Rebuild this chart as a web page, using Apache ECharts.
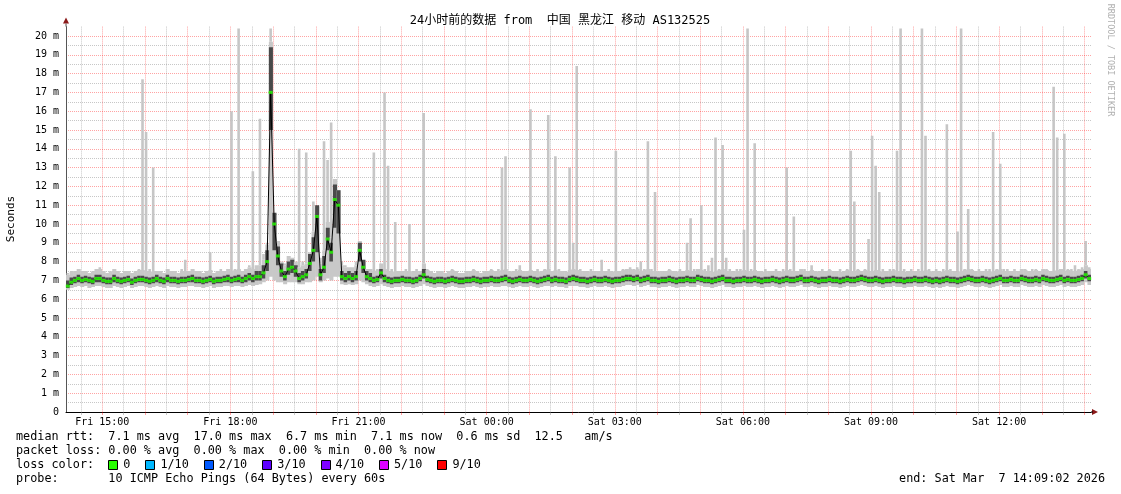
<!DOCTYPE html>
<html><head><meta charset="utf-8">
<script src="https://cdn.jsdelivr.net/npm/echarts@6/dist/echarts.min.js"></script>
<style>html,body{margin:0;padding:0;background:#fff}#c{width:1121px;height:494px}</style>
</head><body><div id="c"></div>
<script>
// time axis: minutes relative to Fri 15:00; window Fri 14:09:02 .. Sat 14:09:02
const startMin = -50.97;
const endMin = 1389.03;
const stepMin = 5;
const xLabels = ['Fri 15:00','Fri 18:00','Fri 21:00','Sat 00:00','Sat 03:00','Sat 06:00','Sat 09:00','Sat 12:00'];
const yTickLabels = ['0','1 m','2 m','3 m','4 m','5 m','6 m','7 m','8 m','9 m','10 m','11 m','12 m','13 m','14 m','15 m','16 m','17 m','18 m','19 m','20 m'];

// median rtt (ms), one value per 5 minutes
const median = [
6.7,6.9,7.0,7.1,7.0,7.05,7.0,6.95,7.1,7.1,7.0,6.95,6.95,7.1,7.0,6.95,7.0,7.05,6.9,7.0,7.05,7.05,7.0,6.95,
7.0,7.1,7.0,6.95,7.1,7.0,7.0,6.95,7.0,7.0,7.05,7.1,7.0,7.0,6.95,7.0,7.05,6.95,7.0,7.0,7.05,7.1,7.0,7.05,
7.1,7.0,7.1,7.2,7.1,7.2,7.2,7.4,8.0,17.0,10.0,8.3,7.5,7.2,7.6,7.7,7.5,7.1,7.2,7.3,7.9,8.6,10.4,7.3,
7.7,9.2,8.5,11.3,11.0,7.2,7.1,7.2,7.1,7.2,8.6,7.7,7.2,7.1,7.0,7.05,7.4,7.1,7.0,6.95,7.0,7.0,7.05,7.0,
7.0,6.95,7.0,7.1,7.3,7.05,7.0,6.95,7.0,7.0,6.95,7.0,7.05,7.0,6.95,6.95,7.0,7.0,7.05,7.0,6.95,7.0,7.0,7.05,
7.0,7.0,7.05,7.1,7.0,6.95,7.0,7.05,7.0,7.0,7.05,7.0,6.95,7.0,7.05,7.1,7.0,7.05,7.0,7.0,6.95,7.05,7.1,7.05,
7.0,7.0,6.95,7.0,7.05,7.0,7.0,7.05,7.0,6.95,7.0,7.0,7.05,7.1,7.1,7.05,7.1,7.0,7.05,7.1,7.0,7.0,6.95,7.0,
7.0,7.05,7.0,6.95,7.0,7.0,7.05,7.0,7.0,7.1,7.05,7.0,7.0,6.95,7.0,7.05,7.1,7.0,7.0,6.95,7.0,7.0,7.05,7.0,
7.0,7.05,7.0,6.95,7.0,7.0,7.05,7.0,6.95,7.0,7.05,7.0,7.0,7.05,7.1,7.0,7.0,7.05,7.0,6.95,7.0,7.0,7.05,7.0,
7.0,6.95,7.0,7.05,7.0,7.0,7.05,7.1,7.05,7.0,7.0,7.05,7.0,6.95,7.0,7.0,7.05,7.0,7.0,6.95,7.0,7.0,7.05,7.0,
7.0,7.05,7.0,6.95,7.0,6.95,7.0,7.05,7.0,7.0,6.95,7.0,7.05,7.1,7.05,7.0,7.0,7.05,7.0,6.95,7.0,7.05,7.1,7.0,
7.0,7.05,7.0,7.0,7.1,7.05,7.0,7.0,7.05,7.0,7.1,7.05,7.0,7.0,7.05,7.1,7.0,7.05,7.0,7.0,7.05,7.1,7.3,7.1
];
// fastest ping (ms)
const pingMin = [
6.5,6.6,6.65,6.7,6.65,6.7,6.6,6.65,6.7,6.7,6.65,6.6,6.6,6.7,6.65,6.6,6.65,6.7,6.6,6.65,6.7,6.7,6.65,6.6,
6.65,6.7,6.65,6.6,6.7,6.65,6.65,6.6,6.65,6.65,6.7,6.7,6.65,6.65,6.6,6.65,6.7,6.6,6.65,6.65,6.7,6.7,6.65,6.7,
6.7,6.65,6.7,6.75,6.7,6.75,6.8,6.9,7.0,7.2,7.0,6.9,6.9,6.8,6.9,6.9,6.9,6.8,6.8,6.9,6.9,7.0,7.2,6.9,
7.0,7.1,7.0,7.2,7.2,6.8,6.75,6.8,6.75,6.8,7.0,6.9,6.8,6.7,6.65,6.7,6.8,6.7,6.65,6.6,6.65,6.65,6.7,6.65,
6.65,6.6,6.65,6.7,6.8,6.7,6.65,6.6,6.65,6.65,6.6,6.65,6.7,6.65,6.6,6.6,6.65,6.65,6.7,6.65,6.6,6.65,6.65,6.7,
6.65,6.65,6.7,6.7,6.65,6.6,6.65,6.7,6.65,6.65,6.7,6.65,6.6,6.65,6.7,6.7,6.65,6.7,6.65,6.65,6.6,6.7,6.7,6.7,
6.65,6.65,6.6,6.65,6.7,6.65,6.65,6.7,6.65,6.6,6.65,6.65,6.7,6.75,6.75,6.7,6.75,6.65,6.7,6.75,6.65,6.65,6.6,6.65,
6.65,6.7,6.65,6.6,6.65,6.65,6.7,6.65,6.65,6.75,6.7,6.65,6.65,6.6,6.65,6.7,6.75,6.65,6.65,6.6,6.65,6.65,6.7,6.65,
6.65,6.7,6.65,6.6,6.65,6.65,6.7,6.65,6.6,6.65,6.7,6.65,6.65,6.7,6.75,6.65,6.65,6.7,6.65,6.6,6.65,6.65,6.7,6.65,
6.65,6.6,6.65,6.7,6.65,6.65,6.7,6.75,6.7,6.65,6.65,6.7,6.65,6.6,6.65,6.65,6.7,6.65,6.65,6.6,6.65,6.65,6.7,6.65,
6.65,6.7,6.65,6.6,6.65,6.6,6.65,6.7,6.65,6.65,6.6,6.65,6.7,6.75,6.7,6.65,6.65,6.7,6.65,6.6,6.65,6.7,6.75,6.65,
6.65,6.7,6.65,6.65,6.75,6.7,6.65,6.65,6.7,6.65,6.75,6.7,6.65,6.65,6.7,6.75,6.65,6.7,6.65,6.65,6.7,6.75,6.9,6.75
];
// dense smoke, lower edge (ms)
const smokeLow = [
6.6,6.75,6.85,6.9,6.85,6.9,6.85,6.8,6.9,6.9,6.85,6.8,6.8,6.9,6.85,6.8,6.85,6.9,6.75,6.85,6.9,6.9,6.85,6.8,
6.85,6.9,6.85,6.8,6.9,6.85,6.85,6.8,6.85,6.85,6.9,6.9,6.85,6.85,6.8,6.85,6.9,6.8,6.85,6.85,6.9,6.9,6.85,6.9,
6.9,6.85,6.9,7.0,6.9,7.0,7.0,7.1,7.5,15.0,8.6,7.8,7.2,7.0,7.3,7.4,7.2,6.9,7.0,7.1,7.5,8.0,8.5,7.0,
7.4,8.6,8.0,9.8,9.5,7.0,6.9,7.0,6.9,7.0,8.0,7.4,7.0,6.9,6.85,6.9,7.1,6.9,6.85,6.8,6.85,6.85,6.9,6.85,
6.85,6.8,6.85,6.95,7.1,6.9,6.85,6.8,6.85,6.85,6.8,6.85,6.9,6.85,6.8,6.8,6.85,6.85,6.9,6.85,6.8,6.85,6.85,6.9,
6.85,6.85,6.9,6.95,6.85,6.8,6.85,6.9,6.85,6.85,6.9,6.85,6.8,6.85,6.9,6.95,6.85,6.9,6.85,6.85,6.8,6.9,6.95,6.9,
6.85,6.85,6.8,6.85,6.9,6.85,6.85,6.9,6.85,6.8,6.85,6.85,6.9,6.95,6.95,6.9,6.95,6.85,6.9,6.95,6.85,6.85,6.8,6.85,
6.85,6.9,6.85,6.8,6.85,6.85,6.9,6.85,6.85,6.95,6.9,6.85,6.85,6.8,6.85,6.9,6.95,6.85,6.85,6.8,6.85,6.85,6.9,6.85,
6.85,6.9,6.85,6.8,6.85,6.85,6.9,6.85,6.8,6.85,6.9,6.85,6.85,6.9,6.95,6.85,6.85,6.9,6.85,6.8,6.85,6.85,6.9,6.85,
6.85,6.8,6.85,6.9,6.85,6.85,6.9,6.95,6.9,6.85,6.85,6.9,6.85,6.8,6.85,6.85,6.9,6.85,6.85,6.8,6.85,6.85,6.9,6.85,
6.85,6.9,6.85,6.8,6.85,6.8,6.85,6.9,6.85,6.85,6.8,6.85,6.9,6.95,6.9,6.85,6.85,6.9,6.85,6.8,6.85,6.9,6.95,6.85,
6.85,6.9,6.85,6.85,6.95,6.9,6.85,6.85,6.9,6.85,6.95,6.9,6.85,6.85,6.9,6.95,6.85,6.9,6.85,6.85,6.9,6.95,7.1,6.95
];
// dense smoke, upper edge (ms)
const smokeHigh = [
7.0,7.15,7.2,7.3,7.2,7.25,7.2,7.15,7.3,7.3,7.2,7.15,7.15,7.3,7.2,7.15,7.2,7.25,7.1,7.2,7.25,7.25,7.2,7.15,
7.2,7.3,7.2,7.15,7.3,7.2,7.2,7.15,7.2,7.2,7.25,7.3,7.2,7.2,7.15,7.2,7.25,7.15,7.2,7.2,7.25,7.3,7.2,7.25,
7.3,7.2,7.3,7.4,7.3,7.5,7.5,7.8,8.6,19.4,10.6,8.8,7.9,7.5,8.0,8.1,7.8,7.4,7.5,7.6,8.4,9.3,11.0,7.6,
8.3,9.8,9.0,12.1,11.8,7.5,7.4,7.5,7.4,7.5,9.0,8.1,7.5,7.4,7.2,7.25,7.6,7.3,7.2,7.15,7.2,7.2,7.25,7.2,
7.2,7.15,7.2,7.3,7.6,7.25,7.2,7.15,7.2,7.2,7.15,7.2,7.25,7.2,7.15,7.15,7.2,7.2,7.25,7.2,7.15,7.2,7.2,7.25,
7.2,7.2,7.25,7.3,7.2,7.15,7.2,7.25,7.2,7.2,7.25,7.2,7.15,7.2,7.25,7.3,7.2,7.25,7.2,7.2,7.15,7.25,7.3,7.25,
7.2,7.2,7.15,7.2,7.25,7.2,7.2,7.25,7.2,7.15,7.2,7.2,7.25,7.3,7.3,7.25,7.3,7.2,7.25,7.3,7.2,7.2,7.15,7.2,
7.2,7.25,7.2,7.15,7.2,7.2,7.25,7.2,7.2,7.3,7.25,7.2,7.2,7.15,7.2,7.25,7.3,7.2,7.2,7.15,7.2,7.2,7.25,7.2,
7.2,7.25,7.2,7.15,7.2,7.2,7.25,7.2,7.15,7.2,7.25,7.2,7.2,7.25,7.3,7.2,7.2,7.25,7.2,7.15,7.2,7.2,7.25,7.2,
7.2,7.15,7.2,7.25,7.2,7.2,7.25,7.3,7.25,7.2,7.2,7.25,7.2,7.15,7.2,7.2,7.25,7.2,7.2,7.15,7.2,7.2,7.25,7.2,
7.2,7.25,7.2,7.15,7.2,7.15,7.2,7.25,7.2,7.2,7.15,7.2,7.25,7.3,7.25,7.2,7.2,7.25,7.2,7.15,7.2,7.25,7.3,7.2,
7.2,7.25,7.2,7.2,7.3,7.25,7.2,7.2,7.25,7.2,7.3,7.25,7.2,7.2,7.25,7.3,7.2,7.25,7.2,7.2,7.25,7.3,7.5,7.3
];
// slowest ping (ms)
const pingMax = [
7.4,7.5,7.5,7.6,7.5,7.5,7.4,7.5,7.6,7.7,7.5,7.4,7.5,7.6,7.5,7.4,7.5,7.5,7.4,7.5,7.6,17.7,14.9,7.6,
13.0,7.5,7.5,7.4,7.6,7.5,7.5,7.4,7.6,8.1,7.5,7.6,7.5,7.5,7.4,7.5,8.5,7.4,7.5,7.6,7.5,7.6,16.0,7.6,
20.4,7.5,7.6,7.8,12.8,7.8,15.6,8.4,9.0,20.4,10.2,9.1,8.0,7.9,8.3,8.2,8.0,14.0,8.0,13.8,8.5,11.2,10.9,8.2,
14.4,13.4,15.4,12.4,11.8,8.0,7.8,7.7,7.7,8.0,9.1,8.0,7.6,7.6,13.8,7.6,7.9,17.0,13.1,7.6,10.1,7.5,7.5,7.6,
10.0,7.5,7.6,7.5,15.9,7.6,7.5,7.4,7.5,7.5,7.4,7.5,7.6,7.5,7.4,7.4,7.5,7.5,7.6,7.5,7.4,7.5,7.5,7.6,
7.5,7.6,13.0,13.6,7.5,7.5,7.6,7.8,7.5,7.5,16.1,7.5,7.6,7.5,7.6,15.8,7.5,13.6,7.6,7.5,7.5,13.0,9.0,18.4,
7.6,7.5,7.5,7.6,7.5,7.5,8.1,7.5,7.6,7.5,13.9,7.5,7.6,7.6,7.7,7.6,7.7,8.0,7.6,14.4,7.6,11.7,7.5,7.5,
7.5,7.6,7.5,7.5,7.6,7.5,9.0,10.3,7.6,7.6,11.0,7.6,7.8,8.2,14.6,7.6,14.2,8.2,7.6,7.5,7.6,7.6,9.7,20.4,
7.6,14.3,7.5,7.5,7.6,7.5,7.5,7.6,7.5,7.6,13.0,7.6,10.4,7.5,7.6,7.6,7.5,7.8,7.5,7.5,7.6,7.5,7.6,7.5,
7.5,7.6,7.5,7.6,13.9,11.2,7.6,7.5,7.6,9.2,14.7,13.1,11.7,7.6,7.5,7.6,7.6,13.9,20.4,7.6,7.5,7.6,7.5,7.6,
20.4,14.7,7.6,7.5,7.6,7.5,7.6,15.3,7.6,7.5,9.6,20.4,7.6,10.8,7.6,7.5,7.6,7.5,7.6,7.6,14.9,7.6,13.2,7.6,
7.6,7.5,7.6,7.5,7.6,7.6,7.5,7.6,7.6,7.5,7.6,7.6,7.5,17.3,14.6,7.6,14.8,7.6,7.6,7.8,7.6,7.7,9.1,7.7
];

const lossLevels = ['0','1/10','2/10','3/10','4/10','5/10','9/10'];
const lossColors = ['#26ff00','#00b8ff','#0059ff','#5e00ff','#7e00ff','#dd00ff','#ff0000'];
const statLines = [
  'median rtt:  7.1 ms avg  17.0 ms max  6.7 ms min  7.1 ms now  0.6 ms sd  12.5   am/s',
  'packet loss: 0.00 % avg  0.00 % max  0.00 % min  0.00 % now',
  'loss color:',
  'probe:       10 ICMP Echo Pings (64 Bytes) every 60s'
];
const titleText = '24小时前的数据 from  中国 黑龙江 移动 AS132525';
const endText = 'end: Sat Mar  7 14:09:02 2026';

const MONO = '"DejaVu Sans Mono", "Noto Sans CJK SC", monospace';
const LEG_FONT = '11.8px ' + MONO;
const CW = 7.1;
const xOf = i => startMin + stepMin * (i + 0.5);
const smokeData = median.map((m, i) => [xOf(i), pingMin[i], smokeLow[i], smokeHigh[i], pingMax[i]]);
const medData = median.map((m, i) => [xOf(i), m]);

const hourTicks = [], halfTicks = [];
for (let t = -30; t <= endMin; t += 30) { (t % 60 === 0 ? hourTicks : halfTicks).push(t); }
const yInt = [], yHalf = [];
for (let k = 0; k <= 20; k++) { yInt.push(k); yHalf.push(k + 0.5); }
yHalf.pop();

const RED = 'rgba(255,0,0,0.36)', GRAY = 'rgba(130,130,130,0.45)';

function renderSmoke(params, api) {
  const x = api.value(0), lo = api.value(1), q1 = api.value(2), q3 = api.value(3), hi = api.value(4);
  const w = api.size([stepMin, 0])[0];
  const bandTop = Math.min(hi, q3 + 0.3);
  const pLo = api.coord([x, lo]), pBT = api.coord([x, bandTop]), pHi = api.coord([x, hi]);
  const pQ1 = api.coord([x, q1]), pQ3 = api.coord([x, q3]);
  const ch = [{type: 'rect', shape: {x: pLo[0] - w / 2, y: pBT[1], width: w + 0.5, height: pLo[1] - pBT[1]}, style: {fill: '#c8c8c8'}}];
  if (hi > bandTop) ch.push({type: 'rect', shape: {x: pHi[0] - 1.3, y: pHi[1], width: 2.6, height: pBT[1] - pHi[1]}, style: {fill: '#c6c6c6'}});
  ch.push({type: 'rect', shape: {x: pQ1[0] - w / 2, y: pQ3[1], width: w + 0.5, height: Math.max(1, pQ1[1] - pQ3[1])}, style: {fill: '#4a4a4a'}});
  return {type: 'group', children: ch};
}

const chart = echarts.init(document.getElementById('c'), null, {renderer: 'canvas'});
const gridTop = 26.6;
chart.setOption({
  animation: false,
  backgroundColor: '#fff',
  grid: {left: 66, right: 30, top: gridTop, bottom: 82},
  xAxis: [{
    type: 'value', min: startMin, max: endMin, position: 'bottom',
    axisLine: {show: true, onZero: false, lineStyle: {color: '#000', width: 1}},
    axisTick: {show: true, customValues: hourTicks, length: 3, lineStyle: {color: RED}},
    axisLabel: {show: true, customValues: xLabels.map((_, k) => k * 180), formatter: v => xLabels[Math.round(v / 180)],
      fontFamily: MONO, fontSize: 10, color: '#000', margin: 5},
    splitLine: {show: true, lineStyle: {color: RED, type: [1, 1], width: 1}}
  }, {
    type: 'value', min: startMin, max: endMin, position: 'bottom',
    axisLine: {show: false, onZero: false},
    axisTick: {show: true, customValues: halfTicks, length: 3, lineStyle: {color: GRAY}},
    axisLabel: {show: false},
    splitLine: {show: true, lineStyle: {color: GRAY, type: [1, 1], width: 1}}
  }],
  yAxis: [{
    type: 'value', min: 0, max: 20.5, position: 'left',
    axisLine: {show: true, onZero: false, lineStyle: {color: '#555', width: 1}},
    axisTick: {show: false, customValues: yInt},
    axisLabel: {customValues: yInt, formatter: v => yTickLabels[Math.round(v)], fontFamily: MONO, fontSize: 10, color: '#000', margin: 7},
    splitLine: {show: true, lineStyle: {color: RED, type: [1, 1], width: 1}}
  }, {
    type: 'value', min: 0, max: 20.5, position: 'left',
    axisLine: {show: false, onZero: false}, axisLabel: {show: false},
    axisTick: {show: false, customValues: yHalf},
    splitLine: {show: true, lineStyle: {color: GRAY, type: [1, 1], width: 1}}
  }],
  series: [{
    type: 'custom', xAxisIndex: 0, yAxisIndex: 0, data: smokeData, renderItem: renderSmoke,
    encode: {x: 0, y: [1, 4]}, clip: true, z: 2, silent: true
  }, {
    type: 'line', xAxisIndex: 0, yAxisIndex: 0, data: medData, symbol: 'none',
    lineStyle: {color: '#000', width: 1}, z: 3, silent: true
  }, {
    type: 'scatter', xAxisIndex: 0, yAxisIndex: 0, data: medData, symbol: 'rect', symbolSize: [4, 3],
    itemStyle: {color: lossColors[0]}, z: 4, silent: true
  }]
});

const g = [];
g.push({type: 'text', style: {text: titleText, x: 560, y: 21, align: 'center', verticalAlign: 'middle', font: '12px ' + MONO, fill: '#000'}});
g.push({type: 'text', rotation: Math.PI / 2, x: 11, y: 219, style: {text: 'Seconds', x: 0, y: 0, align: 'center', verticalAlign: 'middle', font: '11px ' + MONO, fill: '#000'}});
g.push({type: 'text', rotation: -Math.PI / 2, x: 1110, y: 60, style: {text: 'RRDTOOL / TOBI OETIKER', x: 0, y: 0, align: 'center', verticalAlign: 'middle', font: '8.5px ' + MONO, fill: '#b0b0b0'}});
const rowsY = [437, 451, 465, 479];
statLines.forEach((t, k) => g.push({type: 'text', style: {text: t, x: 16, y: rowsY[k], verticalAlign: 'middle', font: LEG_FONT, fill: '#000'}}));
g.push({type: 'text', style: {text: endText, x: 1105, y: rowsY[3], align: 'right', verticalAlign: 'middle', font: LEG_FONT, fill: '#000'}});
let bx = 16 + 13 * CW;
lossLevels.forEach((lab, k) => {
  g.push({type: 'rect', shape: {x: Math.round(bx) + 0.5, y: rowsY[2] - 4.5, width: 9, height: 9}, style: {fill: lossColors[k], stroke: '#000', lineWidth: 1}});
  g.push({type: 'text', style: {text: lab, x: bx + 15, y: rowsY[2], verticalAlign: 'middle', font: LEG_FONT, fill: '#000'}});
  bx += 15 + lab.length * CW + 15;
});
// axis arrows
const o = chart.convertToPixel({xAxisIndex: 0, yAxisIndex: 0}, [startMin, 0]);
const e = chart.convertToPixel({xAxisIndex: 0, yAxisIndex: 0}, [endMin, 20.5]);
g.push({type: 'polygon', shape: {points: [[e[0] + 1, o[1] - 3], [e[0] + 7, o[1]], [e[0] + 1, o[1] + 3]]}, style: {fill: '#8b1a1a'}});
g.push({type: 'line', shape: {x1: e[0], y1: o[1], x2: e[0] + 2, y2: o[1]}, style: {stroke: '#000'}});
g.push({type: 'polygon', shape: {points: [[o[0] - 3, e[1] - 3], [o[0], e[1] - 9], [o[0] + 3, e[1] - 3]]}, style: {fill: '#8b1a1a'}});
g.push({type: 'line', shape: {x1: o[0], y1: e[1], x2: o[0], y2: e[1] - 3}, style: {stroke: '#555'}});
chart.setOption({graphic: g});
</script></body></html>
